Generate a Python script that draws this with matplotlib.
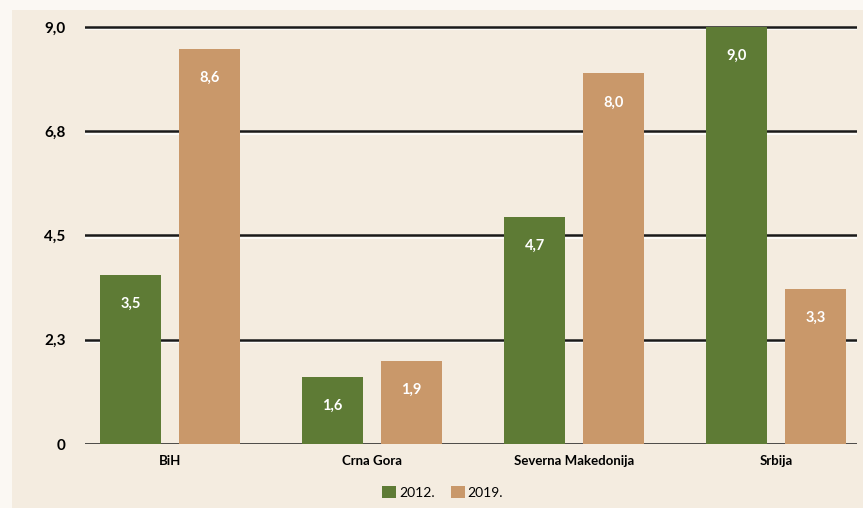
import matplotlib
matplotlib.use("Agg")
import matplotlib.pyplot as plt
from matplotlib.patches import Rectangle, Patch
import numpy as np

categories = ["BiH", "Crna Gora", "Severna Makedonija", "Srbija"]
series_names = ["2012.", "2019."]
values_2012 = [3.65, 1.45, 4.9, 9.0]
values_2019 = [8.53, 1.79, 8.0, 3.35]
labels_2012 = ["3,5", "1,6", "4,7", "9,0"]
labels_2019 = ["8,6", "1,9", "8,0", "3,3"]
yticks = [0, 2.25, 4.5, 6.75, 9.0]
ytick_labels = ["0", "2,3", "4,5", "6,8", "9,0"]

green = "#5E7B35"
tan = "#C9986A"
bg = "#F4ECE0"

plt.rcParams['font.family'] = ['Lato', 'DejaVu Sans']

fig = plt.figure(figsize=(8.63, 5.08), dpi=100)
fig.patch.set_facecolor("#FBF8F3")
fig.patches.append(Rectangle((12/863, 0), 1, 1 - 10/508, transform=fig.transFigure,
                             facecolor=bg, edgecolor="none", zorder=-10))

ax = fig.add_axes([85/863, 1 - 444/508, (857-85)/863, (444-20)/508])
ax.set_facecolor("none")
x = np.arange(len(categories))
off = 0.195
w = 0.30
b1 = ax.bar(x - off, values_2012, width=w, color=green, zorder=3)
b2 = ax.bar(x + off, values_2019, width=w, color=tan, zorder=3)

for bars, labs in ((b1, labels_2012), (b2, labels_2019)):
    for r, t in zip(bars, labs):
        ax.annotate(t, (r.get_x() + r.get_width()/2, r.get_height()),
                    xytext=(0, -21), textcoords="offset points",
                    ha="center", va="center", color="white", fontsize=10.5,
                    fontweight="bold", zorder=4)

ax.set_ylim(0, 9.15)
ax.set_xlim(-0.42, 3.4)
for yv in yticks:
    ax.axhline(yv - 0.05, color="white", lw=1.5, zorder=1, alpha=0.8)
    ax.axhline(yv, color="#1a1a1a", lw=1.8, zorder=2)

ax.set_yticks(yticks)
ax.set_yticklabels(ytick_labels, fontsize=11, fontweight="bold")
ax.set_xticks(x)
ax.set_xticklabels(categories, fontsize=9.5, fontweight="bold")
ax.tick_params(axis="y", length=0, pad=14)
ax.tick_params(axis="x", length=0, pad=8)
for s in ax.spines.values():
    s.set_visible(False)

handles = [Patch(facecolor=green), Patch(facecolor=tan)]
fig.legend(handles, series_names, loc="center", bbox_to_anchor=(0.513, 0.031),
           ncol=2, frameon=False, fontsize=10, handlelength=1.0, handleheight=1.0,
           handletextpad=0.2, columnspacing=1.2)

fig.savefig("out.png", dpi=100, facecolor=fig.get_facecolor())
